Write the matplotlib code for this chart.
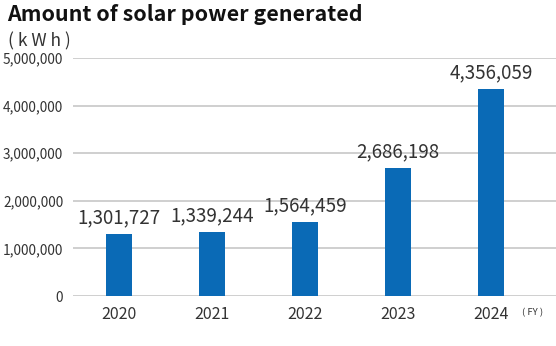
import matplotlib.pyplot as plt
from matplotlib.ticker import FuncFormatter

plt.rcParams['font.family'] = ['Noto Sans CJK JP', 'DejaVu Sans']

years = ["2020", "2021", "2022", "2023", "2024"]
generated_kwh = [1301727, 1339244, 1564459, 2686198, 4356059]
y_ticks = [0, 1000000, 2000000, 3000000, 4000000, 5000000]

bar_color = "#0a6ab6"
text_color = "#333333"

fig = plt.figure(figsize=(5.56, 3.46), dpi=100)
ax = fig.add_axes([0.1313, 0.1445, 0.8687, 0.688])

x = range(len(years))
bars = ax.bar(x, generated_kwh, width=0.28, color=bar_color, zorder=3)

for rect, val in zip(bars, generated_kwh):
    ax.annotate(f"{val:,}", (rect.get_x() + rect.get_width() / 2, val),
                xytext=(0, 4), textcoords="offset points",
                ha="center", va="bottom", fontsize=13.5, color=text_color)

ax.set_xlim(-0.495, 4.70)
ax.set_ylim(0, 5000000)
ax.set_yticks(y_ticks)
ax.yaxis.set_major_formatter(FuncFormatter(lambda v, _: f"{int(v):,}"))
ax.set_xticks(list(x))
ax.set_xticklabels(years)

ax.grid(axis="y", color="#cccccc", linewidth=1.3, zorder=0)
for side in ["top", "right", "left", "bottom"]:
    ax.spines[side].set_visible(False)
ax.tick_params(axis="both", length=0, colors=text_color)
ax.tick_params(axis="y", labelsize=9.8, pad=7)
ax.tick_params(axis="x", labelsize=11.5, pad=7)

fig.text(0.012, 0.988, "Amount of solar power generated", fontsize=15.4,
         fontweight="bold", color="#111111", ha="left", va="top")
fig.text(0.014, 0.879, "( k W h )", fontsize=12.5, color=text_color,
         ha="left", va="center")
fig.text(0.938, 0.095, "( FY )", fontsize=6.8, color=text_color,
         ha="left", va="center")

fig.savefig("out.png", dpi=100)
